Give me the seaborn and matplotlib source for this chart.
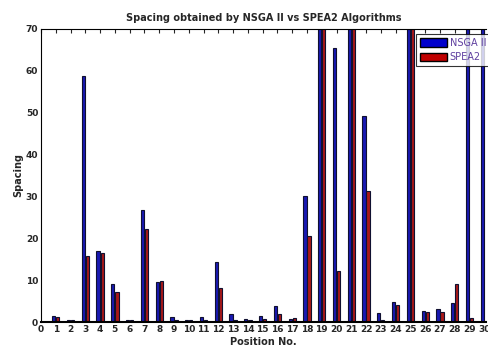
import matplotlib
matplotlib.use("Agg")
import matplotlib.pyplot as plt
import seaborn as sns
import pandas as pd
from matplotlib.patches import Patch

positions = list(range(1, 31))
nsga2 = [1.4, 0.5, 58.7, 17.0, 9.1, 0.5, 26.7, 9.6, 1.3, 0.5,
         1.3, 14.3, 1.9, 0.7, 1.4, 3.9, 0.8, 30.1, 80.0, 65.5,
         80.0, 49.2, 2.1, 4.8, 80.0, 2.6, 3.1, 4.5, 80.0, 80.0]
spea2 = [1.2, 0.5, 15.7, 16.4, 7.2, 0.5, 22.2, 9.8, 0.5, 0.5,
         0.5, 8.2, 0.5, 0.5, 0.7, 1.9, 1.0, 20.5, 80.0, 12.2,
         80.0, 31.3, 0.5, 4.1, 80.0, 2.4, 2.4, 9.1, 1.0, 0.0]
series_names = ["NSGA II", "SPEA2"]
xticks = list(range(0, 31))
yticks = [0, 10, 20, 30, 40, 50, 60, 70]

df = pd.DataFrame({
    "pos": positions * 2,
    "val": nsga2 + spea2,
    "alg": [series_names[0]] * len(positions) + [series_names[1]] * len(positions),
})

sns.set_style("white")
plt.rcParams["font.family"] = ["DejaVu Sans"]

fig = plt.figure(figsize=(4.88, 3.52), dpi=100)
ax = fig.add_axes([0.084, 0.085, 0.912, 0.833])

colors = {"NSGA II": "#0000cc", "SPEA2": "#c00000"}
sns.barplot(data=df, x="pos", y="val", hue="alg", native_scale=True,
            palette=colors, width=0.55, gap=0.2, edgecolor="#101030", linewidth=0.8,
            ax=ax, legend=False, errorbar=None)

ax.set_xlim(0, 30.12)
ax.set_ylim(0, 70)
ax.set_xticks(xticks)
ax.set_xticklabels([str(t) for t in xticks], fontsize=6.5, fontweight="bold")
ax.set_yticks(yticks)
ax.set_yticklabels([str(t) for t in yticks], fontsize=6.5, fontweight="bold")
ax.tick_params(direction="in", length=3, top=True, right=False, width=0.8, pad=2)
for s in ["left", "bottom", "top"]:
    ax.spines[s].set_visible(True)
    ax.spines[s].set_color("black")
ax.spines["right"].set_visible(False)
ax.spines["bottom"].set_linewidth(1.5)
ax.spines["top"].set_linewidth(0.8)
ax.spines["left"].set_linewidth(0.8)

ax.set_xlabel("Position No.", fontsize=7, fontweight="bold", labelpad=2)
ax.set_ylabel("Spacing", fontsize=7, fontweight="bold", labelpad=2)
ax.set_title("Spacing obtained by NSGA II vs SPEA2 Algorithms", fontsize=7,
             fontweight="bold", pad=6)

handles = [Patch(facecolor=colors[n], edgecolor="black", label=n) for n in series_names]
leg = ax.legend(handles=handles, loc="upper right", bbox_to_anchor=(1.02, 1.0),
                fontsize=7, frameon=True, fancybox=False, edgecolor="black",
                handlelength=2.8, handleheight=1.0, borderpad=0.4, labelspacing=0.5,
                handletextpad=0.3)
leg.get_frame().set_linewidth(0.8)
for t in leg.get_texts():
    t.set_color("#6040a0")

fig.savefig("out.png", dpi=100)
